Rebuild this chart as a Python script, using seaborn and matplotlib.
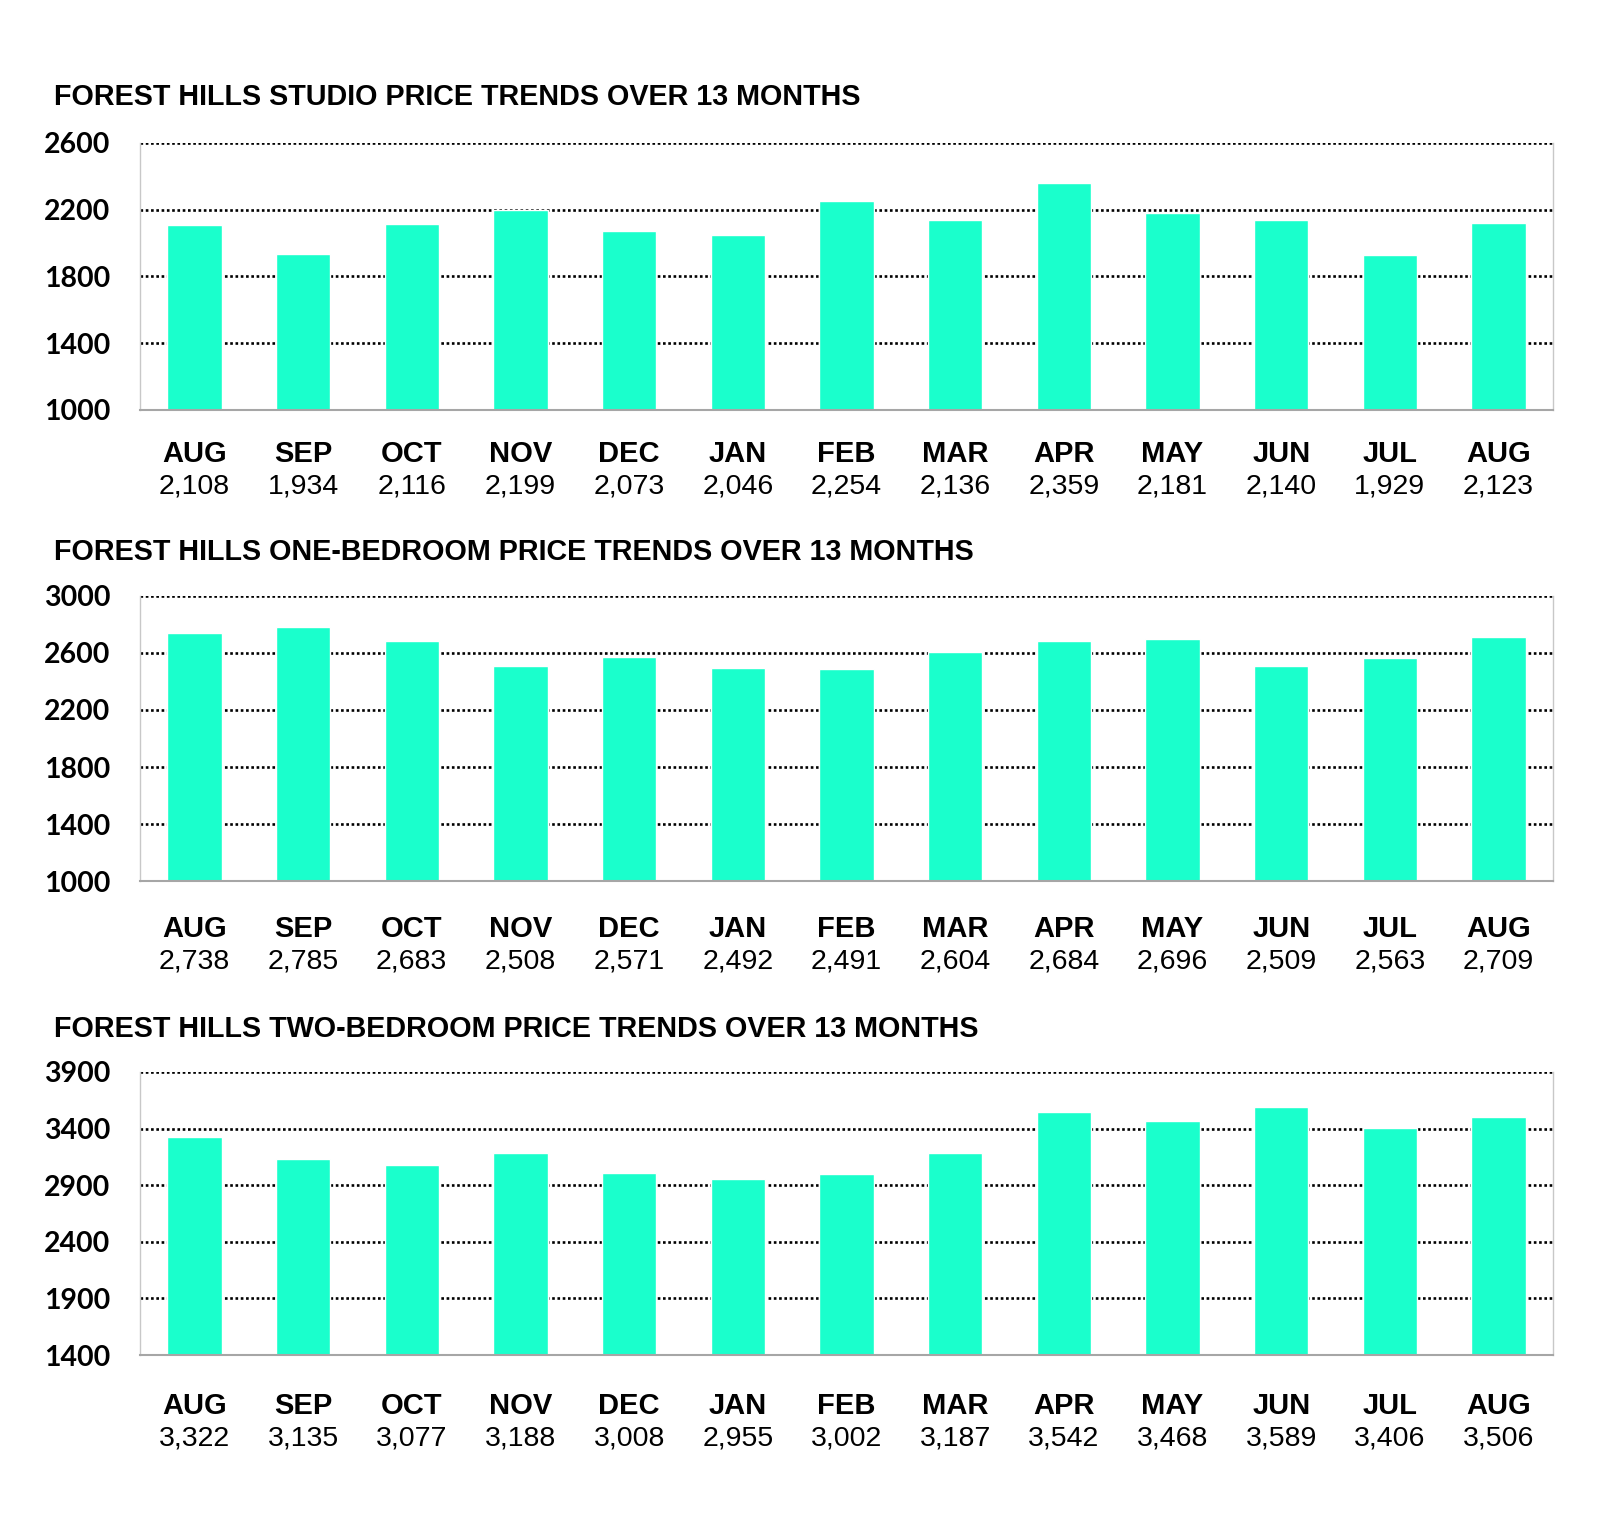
import pandas as pd
import matplotlib.pyplot as plt
import seaborn as sns
from matplotlib.ticker import FixedLocator

# data
months = ["AUG", "SEP", "OCT", "NOV", "DEC", "JAN", "FEB", "MAR", "APR", "MAY", "JUN", "JUL", "AUG"]
studio = [2108, 1934, 2116, 2199, 2073, 2046, 2254, 2136, 2359, 2181, 2140, 1929, 2123]
one_bed = [2738, 2785, 2683, 2508, 2571, 2492, 2491, 2604, 2684, 2696, 2509, 2563, 2709]
two_bed = [3322, 3135, 3077, 3188, 3008, 2955, 3002, 3187, 3542, 3468, 3589, 3406, 3506]

titles = [
    "FOREST HILLS STUDIO PRICE TRENDS OVER 13 MONTHS",
    "FOREST HILLS ONE-BEDROOM PRICE TRENDS OVER 13 MONTHS",
    "FOREST HILLS TWO-BEDROOM PRICE TRENDS OVER 13 MONTHS",
]
yticks = [
    [1000, 1400, 1800, 2200, 2600],
    [1000, 1400, 1800, 2200, 2600, 3000],
    [1400, 1900, 2400, 2900, 3400, 3900],
]
series = [studio, one_bed, two_bed]

sns.set_style("white")
plt.rcParams["font.family"] = ["Liberation Sans", "DejaVu Sans"]
plt.rcParams["text.color"] = "black"
plt.rcParams["ytick.color"] = "black"
plt.rcParams["ytick.labelcolor"] = "black"

BAR = "#1AFFCC"
fig = plt.figure(figsize=(16, 15.32), dpi=100)

# axes boxes [left, bottom, width, height], title y, label offsets (pt)
boxes = [
    [0.0875, 0.7324, 0.8831, 0.1743],
    [0.0875, 0.4249, 0.8831, 0.1861],
    [0.0875, 0.1155, 0.8831, 0.1848],
]
title_y = [0.937, 0.6395, 0.3285]
offsets = [(-31.5, -55.3), (-34.5, -58), (-36.5, -60.2)]

for box, ty, off, title, vals, ticks in zip(boxes, title_y, offsets, titles, series, yticks):
    ax = fig.add_axes(box)
    df = pd.DataFrame({"pos": range(len(months)), "price": vals})
    sns.barplot(data=df, x="pos", y="price", color=BAR, saturation=1,
                width=0.5, ax=ax, errorbar=None)
    ax.set_axisbelow(True)
    ax.set_xlim(-0.5, len(months) - 0.5)
    ax.set_ylim(ticks[0], ticks[-1])
    ax.set_yticks(ticks)
    ax.set_yticklabels([str(t) for t in ticks], family="Lato", fontweight="bold",
                       fontsize=20.5, color="black")
    ax.tick_params(axis="y", length=0, pad=21.5)
    ax.grid(axis="y", color="black", linestyle=(0, (1, 1)), linewidth=1.9)
    ax.grid(axis="x", visible=False)

    # category boundary ticks
    ax.set_xticks(range(len(months)))
    ax.set_xticklabels([""] * len(months))
    ax.tick_params(axis="x", which="major", length=0)
    ax.xaxis.set_minor_locator(FixedLocator([i - 0.5 for i in range(len(months) + 1)]))
    ax.tick_params(axis="x", which="minor", length=7, width=1.5, color="#A6A6A6", direction="out")

    ax.set_xlabel("")
    ax.set_ylabel("")
    ax.spines["top"].set_visible(False)
    for s in ["left", "right"]:
        ax.spines[s].set_color("#C8C8C8")
        ax.spines[s].set_linewidth(1)
    ax.spines["bottom"].set_color("#A6A6A6")
    ax.spines["bottom"].set_linewidth(1.5)

    for i, (m, v) in enumerate(zip(months, vals)):
        ax.annotate(m, xy=(i, 0), xycoords=("data", "axes fraction"),
                    xytext=(0, off[0]), textcoords="offset points",
                    ha="center", va="center", fontsize=21, fontweight="bold")
        ax.annotate(f"{v:,}", xy=(i, 0), xycoords=("data", "axes fraction"),
                    xytext=(0, off[1]), textcoords="offset points",
                    ha="center", va="center", fontsize=20.5)

    fig.text(0.034, ty, title, ha="left", va="center", fontsize=20.7, fontweight="bold")

fig.savefig("out.png", dpi=100, facecolor="white")
